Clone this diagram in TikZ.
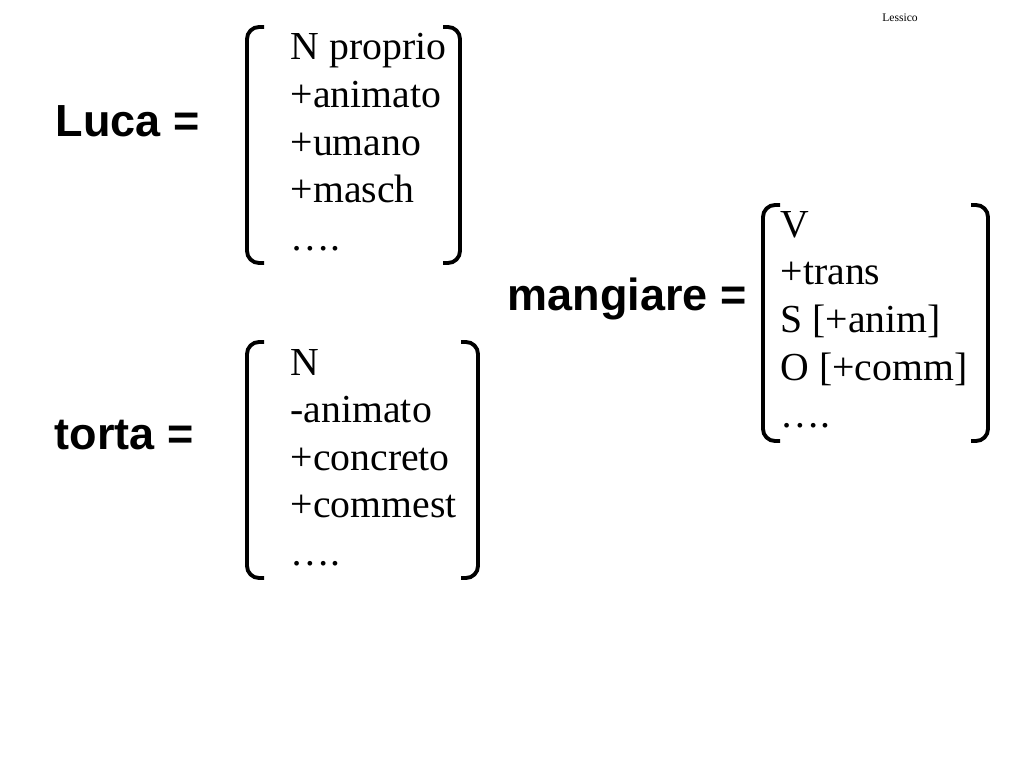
\documentclass[tikz,border=0pt]{standalone}
\usepackage{fontspec}
\setmainfont{Liberation Serif}
\newfontfamily\labelfont{Liberation Sans}
\usetikzlibrary{positioning}
\tikzset{
  feat/.style={anchor=base west,inner sep=0pt,font=\fontsize{11.3}{13.5}\selectfont},
  word/.style={anchor=base west,inner sep=0pt,font=\labelfont\bfseries\fontsize{12.8}{15}\selectfont},
  brack/.style={line width=1.1pt,rounded corners=1.2mm}
}
\begin{document}
\begin{tikzpicture}[x=1cm,y=-1cm]
\useasboundingbox (0,0) rectangle (10.24,7.68);
\node[inner sep=0pt,anchor=base,font=\fontsize{3.3}{4}\selectfont] (lessico) at (9.00,0.21) {Lessico};
% Luca
\node[word] (luca) at (0.55,1.36) {Luca =};
\foreach \t [count=\i from 0] in {N proprio,+animato,+umano,+masch,….}
  \node[feat] (luca\i) at (2.90,0.60+0.475*\i) {\t};
\draw[brack] (2.64,0.27) -- (2.47,0.27) -- (2.47,2.63) -- (2.64,2.63);
\draw[brack] (4.43,0.27) -- (4.60,0.27) -- (4.60,2.63) -- (4.43,2.63);
% torta
\node[word] (torta) at (0.54,4.49) {torta =};
\foreach \t [count=\i from 0] in {N,-animato,+concreto,+commest,….}
  \node[feat] (torta\i) at (2.90,3.75+0.475*\i) {\t};
\draw[brack] (2.64,3.42) -- (2.47,3.42) -- (2.47,5.78) -- (2.64,5.78);
\draw[brack] (4.61,3.42) -- (4.78,3.42) -- (4.78,5.78) -- (4.61,5.78);
% mangiare
\node[word] (mangiare) at (5.07,3.10) {mangiare =};
\foreach \t [count=\i from 0] in {V,+trans,S [+anim],O [+comm],….}
  \node[feat] (mangiare\i) at (7.80,2.37+0.477*\i) {\t};
\draw[brack] (7.80,2.05) -- (7.63,2.05) -- (7.63,4.41) -- (7.80,4.41);
\draw[brack] (9.71,2.05) -- (9.88,2.05) -- (9.88,4.41) -- (9.71,4.41);
\end{tikzpicture}
\end{document}
